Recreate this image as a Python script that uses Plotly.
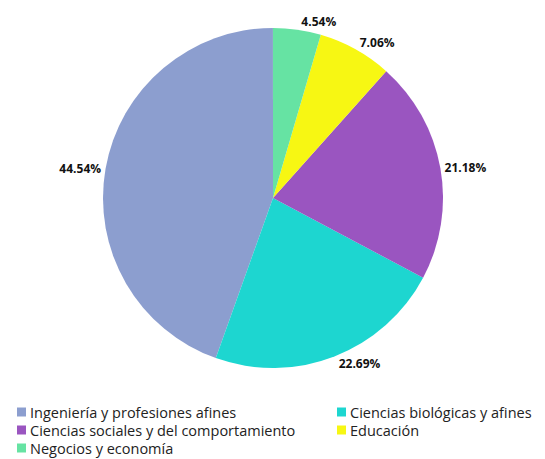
import plotly.graph_objects as go

labels = ["Ingeniería y profesiones afines", "Ciencias biológicas y afines",
          "Ciencias sociales y del comportamiento", "Educación", "Negocios y economía"]
values = [44.54, 22.69, 21.18, 7.06, 4.54]
colors = ["#8c9ecf", "#1dd6d0", "#9a55c0", "#f7f713", "#66e3a3"]
texts = [f"{v:.2f}%" for v in values]

W, H = 545, 459
OFF = 8  # page body margin offset
cx, cy, r = 273 - OFF, 198 - OFF, 170

fig = go.Figure(go.Pie(
    labels=labels, values=values, text=texts, textinfo="text",
    sort=False, direction="counterclockwise", rotation=-160.344,
    marker=dict(colors=colors, line=dict(width=0)),
    textposition="outside",
    textfont=dict(family="Open Sans", size=12, color="#111111", weight="bold"),
    domain=dict(x=[(cx - r) / W, (cx + r) / W], y=[1 - (cy + r) / H, 1 - (cy - r) / H]),
    hoverinfo="label+percent",
    showlegend=False,
))

# legend drawn as annotations + square markers (two columns, row-major)
col_x = [17 - OFF, 337 - OFF]
row_y = [412 - OFF, 430 - OFF, 448 - OFF]
shapes, annotations = [], []
for i, (lab, col) in enumerate(zip(labels, colors)):
    rr, cc = divmod(i, 2)
    x0, yc = col_x[cc], row_y[rr]
    shapes.append(dict(type="rect", xref="paper", yref="paper",
                       x0=x0 / W, x1=(x0 + 9) / W,
                       y0=1 - (yc + 4.5) / H, y1=1 - (yc - 4.5) / H,
                       fillcolor=col, line=dict(width=0)))
    annotations.append(dict(text=lab, xref="paper", yref="paper",
                            x=(x0 + 11) / W, y=1 - yc / H, xanchor="left", yanchor="middle",
                            showarrow=False,
                            font=dict(family="Open Sans", size=14.5, color="#222222")))

fig.update_layout(
    width=W, height=H,
    margin=dict(l=0, r=0, t=0, b=0),
    paper_bgcolor="white", plot_bgcolor="white",
    font=dict(family="Open Sans", size=14.5, color="#222222"),
    showlegend=False,
    shapes=shapes, annotations=annotations,
)
fig.write_html("out.html")
